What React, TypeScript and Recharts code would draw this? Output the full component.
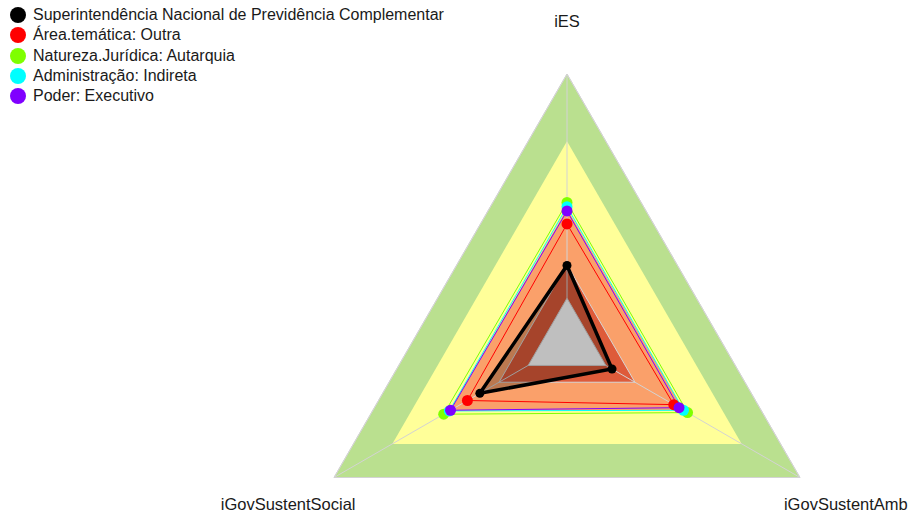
import React from 'react';
import { RadarChart, Radar, PolarGrid, PolarAngleAxis, PolarRadiusAxis, Legend } from 'recharts';

const categories = ['iES', 'iGovSustentAmb', 'iGovSustentSocial'];

const seriesNames = [
    'Superintendência Nacional de Previdência Complementar',
    'Área.temática: Outra',
    'Natureza.Jurídica: Autarquia',
    'Administração: Indireta',
    'Poder: Executivo',
];
const seriesColors = ['#000000', '#ff0000', '#7fff00', '#00ffff', '#8000ff'];

// values per category, same order as categories
const superintendencia = [0.146, 0.032, 0.249];
const areaTematica = [0.331, 0.35, 0.313];
const naturezaJuridica = [0.427, 0.421, 0.435];
const administracao = [0.408, 0.4, 0.406];
const poder = [0.389, 0.377, 0.4];

const seriesValues = [superintendencia, areaTematica, naturezaJuridica, administracao, poder];

// background bands (capability levels)
const bandLevels = [1, 0.7, 0.4, 0.15, 0];
const bandColors = ['#bae08f', '#ffff99', '#faa06a', '#de5b3a', '#ffffff'];
const bandStrokes = ['#d6d6d6', 'none', 'none', '#d6d6d6', '#d6d6d6'];

const radiusDomain = [-0.2, 1];

const CX = 567;
const CY = 343;
const OUTER = 269;
const LABEL_R = 322;
const FONT = "'Liberation Sans', Arial, sans-serif";
// radius of the zero level; the series chart starts its scale there so spokes begin at 0
const ZERO_R = OUTER * (0 - radiusDomain[0]) / (radiusDomain[1] - radiusDomain[0]);

const data = categories.map((c, i) => {
    const row: Record<string, string | number> = { axis: c };
    bandLevels.forEach((b, j) => { row['b' + j] = b; });
    seriesValues.forEach((s, j) => { row['s' + j] = s[i]; });
    return row;
});

const AxisTick = (props: any) => {
    const { x, y, payload } = props;
    const dx = x - CX;
    const dy = y - CY;
    const len = Math.sqrt(dx * dx + dy * dy) || 1;
    return (
        <text
            x={CX + (dx / len) * LABEL_R}
            y={CY + (dy / len) * LABEL_R}
            textAnchor="middle"
            dominantBaseline="central"
            fontSize={16.5}
            fontFamily={FONT}
            fill="#1a1a1a"
        >
            {payload.value}
        </text>
    );
};

const LegendBox = () => (
    <div style={{ fontFamily: FONT, fontSize: 16, color: '#1a1a1a' }}>
        {seriesNames.map((n, i) => (
            <div key={n} style={{ display: 'flex', alignItems: 'center', height: 20.3, whiteSpace: 'nowrap' }}>
                <span style={{ width: 16, height: 16, borderRadius: 8, background: seriesColors[i], marginLeft: 10, marginRight: 7, display: 'inline-block' }} />
                {n}
            </div>
        ))}
    </div>
);

const makeDot = (color: string, r: number) => (p: any) => (
    <circle key={p.index} cx={p.cx} cy={p.cy} r={r} fill={color} stroke="none" />
);

const layer: React.CSSProperties = { position: 'absolute', left: 0, top: 0 };

export default function App() {
    return (
        <div style={{ position: 'absolute', left: 0, top: 0, width: 909, height: 517, background: '#fff' }}>
            {/* background bands */}
            <div style={layer}>
                <RadarChart width={909} height={517} data={data} cx={CX} cy={CY} outerRadius={OUTER} margin={{ top: 0, right: 0, bottom: 0, left: 0 }}>
                    <PolarRadiusAxis domain={radiusDomain} tick={false} axisLine={false} />
                    <PolarAngleAxis dataKey="axis" tick={<AxisTick />} tickLine={false} axisLine={false} />
                    {bandLevels.map((b, j) => (
                        <Radar
                            key={'b' + j}
                            dataKey={'b' + j}
                            fill={bandColors[j]}
                            fillOpacity={1}
                            stroke={bandStrokes[j]}
                            strokeWidth={1}
                            dot={false}
                            legendType="none"
                            isAnimationActive={false}
                        />
                    ))}
                </RadarChart>
            </div>
            {/* grid spokes + series */}
            <div style={layer}>
                <RadarChart width={909} height={517} data={data} cx={CX} cy={CY} innerRadius={ZERO_R} outerRadius={OUTER} margin={{ top: 0, right: 0, bottom: 0, left: 0 }}>
                    <PolarGrid gridType="polygon" polarRadius={[OUTER]} stroke="#d3d3d3" />
                    <PolarRadiusAxis domain={[0, radiusDomain[1]]} tick={false} axisLine={false} />
                    <PolarAngleAxis dataKey="axis" tick={false} tickLine={false} axisLine={false} />
                    {seriesNames.map((n, j) => (
                        <Radar
                            key={'s' + j}
                            name={n}
                            dataKey={'s' + j}
                            stroke={seriesColors[j]}
                            strokeWidth={j === 0 ? 3.5 : 1}
                            fill={j === 0 ? '#000000' : 'none'}
                            fillOpacity={j === 0 ? 0.25 : 0}
                            dot={makeDot(seriesColors[j], j === 0 ? 4.5 : 5.5)}
                            isAnimationActive={false}
                        />
                    ))}
                    <Legend
                        layout="vertical"
                        align="center"
                        verticalAlign="middle"
                        wrapperStyle={{ top: 5, left: 0, width: 480 }}
                        content={<LegendBox />}
                    />
                </RadarChart>
            </div>
        </div>
    );
}
